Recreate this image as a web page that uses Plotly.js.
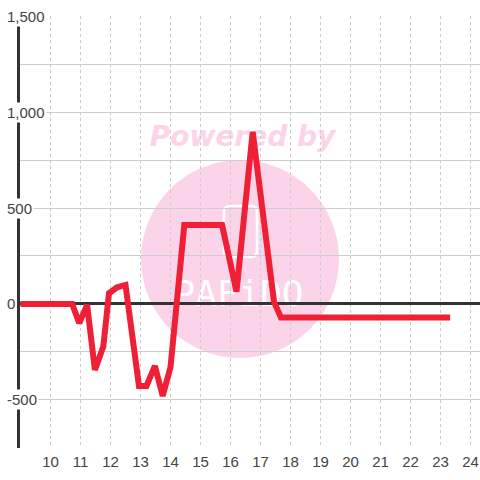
<!DOCTYPE html>
<html><head><meta charset="utf-8">
<script src="https://cdn.plot.ly/plotly-3.0.1.min.js"></script>
<style>html,body{margin:0;padding:0;background:#fff}#chart{width:480px;height:480px}</style>
</head><body><div id="chart"></div>
<script>
// Data
const xValues = [9, 10.72, 10.96, 11.22, 11.48, 11.76, 11.95, 12.22, 12.5, 12.95, 13.2, 13.48, 13.74, 14.0, 14.46, 15.72, 16.2, 16.74, 17.45, 17.68, 23.32];
const yValues = [0, 0, -100, -5, -344, -222, 56, 87, 99, -427, -427, -323, -479, -330, 411, 411, 64, 897, 12, -70, -70];
const xTickVals = [10, 11, 12, 13, 14, 15, 16, 17, 18, 19, 20, 21, 22, 23, 24];
const yTickVals = [1500, 1000, 500, 0, -500];
const yTickText = ['1,500', '1,000', '500', '0', '-500'];
const yGridVals = [-750, -500, -250, 0, 250, 500, 750, 1000, 1250, 1500];

// plot area in pixels: x 20..480, y 16..448
const L = 20, W = 460, T = 16, H = 432;
const px = v => (v - L) / W;
const py = v => (T + H - v) / H;

const BG = '#fefffe';
const PINK = '#fcd4ea';

function roundRect(x0, y0, x1, y1, r) {
  const rx = r / W, ry = r / H;
  const a = px(x0), b = px(x1), top = py(y0), bot = py(y1);
  return `M ${a + rx} ${top} L ${b - rx} ${top} Q ${b} ${top} ${b} ${top - ry} ` +
         `L ${b} ${bot + ry} Q ${b} ${bot} ${b - rx} ${bot} L ${a + rx} ${bot} ` +
         `Q ${a} ${bot} ${a} ${bot + ry} L ${a} ${top - ry} Q ${a} ${top} ${a + rx} ${top} Z`;
}

const shapes = [
  {type: 'circle', xref: 'paper', yref: 'paper', layer: 'below',
   x0: px(141), x1: px(339), y0: py(358), y1: py(160),
   fillcolor: PINK, line: {width: 0}},
  {type: 'path', xref: 'paper', yref: 'paper', layer: 'below',
   path: roundRect(224, 206, 257, 257, 6),
   fillcolor: 'rgba(0,0,0,0)', line: {color: '#ffffff', width: 2.5}},
  {type: 'rect', xref: 'paper', yref: 'paper', layer: 'below',
   x0: px(165), x1: px(312), y0: py(308), y1: py(272),
   fillcolor: 'rgba(0,0,0,0)', line: {width: 0},
   label: {text: 'PAFiDO', textposition: 'middle center',
           font: {family: 'DejaVu Sans Mono', size: 36, color: '#ffffff'}}},
  {type: 'rect', xref: 'paper', yref: 'paper', layer: 'below',
   x0: px(140), x1: px(345), y0: py(155), y1: py(113),
   fillcolor: 'rgba(0,0,0,0)', line: {width: 0},
   label: {text: 'Powered by', textposition: 'middle center',
           font: {family: 'DejaVu Sans', size: 28, color: PINK, weight: 'bold', style: 'italic'}}}
];

const annotations = yTickVals.map((v, i) => ({
  xref: 'paper', yref: 'y', x: px(5), y: v, xanchor: 'left', yanchor: 'middle',
  text: yTickText[i], showarrow: false, bgcolor: BG, borderpad: 1,
  font: {family: 'Liberation Sans, Arial, sans-serif', size: 15, color: '#444'}
}));

const trace = {
  type: 'scatter', mode: 'lines', x: xValues, y: yValues,
  line: {color: '#ef1f36', width: 6}, hoverinfo: 'skip'
};

const layout = {
  width: 480, height: 480,
  margin: {l: L, r: 0, t: T, b: 480 - T - H},
  paper_bgcolor: BG, plot_bgcolor: BG,
  showlegend: false,
  xaxis: {
    range: [8.983, 24.317], tickvals: xTickVals, ticks: '',
    showgrid: true, gridcolor: '#cccccc', gridwidth: 1, griddash: 'dot',
    zeroline: false, showline: false, ticklabelstandoff: 3,
    tickfont: {family: 'Liberation Sans, Arial, sans-serif', size: 15, color: '#444'}
  },
  yaxis: {
    range: [-750.5, 1500.5], tickvals: yGridVals, showticklabels: false, ticks: '',
    showgrid: true, gridcolor: '#cccccc', gridwidth: 1,
    zeroline: true, zerolinecolor: '#333333', zerolinewidth: 3,
    showline: true, linecolor: '#333333', linewidth: 3
  },
  shapes: shapes,
  annotations: annotations
};

Plotly.newPlot('chart', [trace], layout, {staticPlot: true, displayModeBar: false});
</script></body></html>
